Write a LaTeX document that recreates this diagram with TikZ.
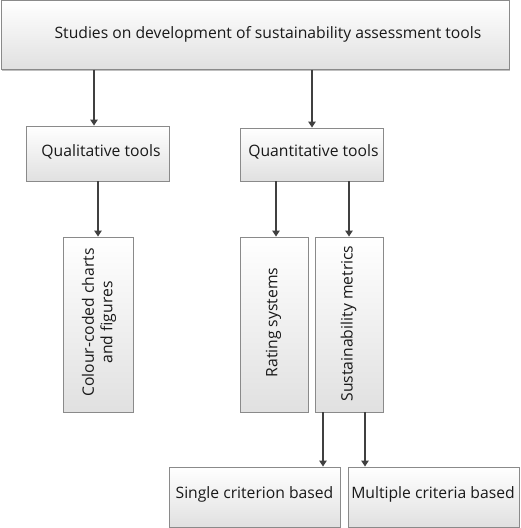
\documentclass[tikz,border=0pt]{standalone}
\usepackage{fontspec}
\setmainfont{Open Sans}
\usetikzlibrary{arrows.meta,shadows}
\definecolor{edge}{HTML}{8A8A8A}
\definecolor{arr}{HTML}{404040}
\tikzset{
  box/.style={draw=edge, line width=0.9pt, top color=white, bottom color=black!12,
    drop shadow={shadow xshift=1.2pt, shadow yshift=-1.2pt, opacity=0.25, fill=black},
    inner sep=0pt},
  lbl/.style={font=\fontsize{15.7}{18.5}\selectfont, inner sep=0pt, text=black!90, align=center},
  conn/.style={draw=arr, line width=1.3pt, -{Triangle[length=6pt,width=7.5pt]}}
}
\begin{document}
\begin{tikzpicture}[x=1pt,y=-1pt]
\useasboundingbox (0,0) rectangle (520,528);
% boxes
\node[box, minimum width=508pt, minimum height=69pt] (top) at (255,35) {};
\node[box, minimum width=143pt, minimum height=55pt] (qual) at (97.5,153.5) {};
\node[box, minimum width=143pt, minimum height=53pt] (quan) at (311.5,154.5) {};
\node[box, minimum width=70pt, minimum height=175pt] (col) at (98,324.5) {};
\node[box, minimum width=68pt, minimum height=175pt] (rat) at (274,324.5) {};
\node[box, minimum width=68pt, minimum height=175pt] (sus) at (349,324.5) {};
\node[box, minimum width=171pt, minimum height=60pt] (sing) at (254.5,497) {};
\node[box, minimum width=171pt, minimum height=60pt] (mult) at (433.5,497) {};
% labels
\node[lbl] (ttop) at (268,34) {Studies on development of sustainability assessment tools};
\node[lbl] (tqual) at (101,152) {Qualitative tools};
\node[lbl] (tquan) at (313.5,152) {Quantitative tools};
\node[lbl, rotate=90] (tcol) at (99,322.5) {Colour-coded charts\\and figures};
\node[lbl, rotate=90] (trat) at (273.5,322.5) {Rating systems};
\node[lbl, rotate=90] (tsus) at (348.5,323.5) {Sustainability metrics};
\node[lbl] (tsing) at (254.5,494) {Single criterion based};
\node[lbl] (tmult) at (433,494) {Multiple criteria based};
% connectors
\draw[conn] (top.south -| 94,0) -- (qual.north -| 94,0);
\draw[conn] (top.south -| 312,0) -- (quan.north -| 312,0);
\draw[conn] (qual.south -| 98,0) -- (col.north -| 98,0);
\draw[conn] (quan.south -| 276,0) -- (rat.north -| 276,0);
\draw[conn] (quan.south -| 349,0) -- (sus.north -| 349,0);
\draw[conn] (sus.south -| 323,0) -- (sing.north -| 323,0);
\draw[conn] (sus.south -| 365,0) -- (mult.north -| 365,0);
\end{tikzpicture}
\end{document}
